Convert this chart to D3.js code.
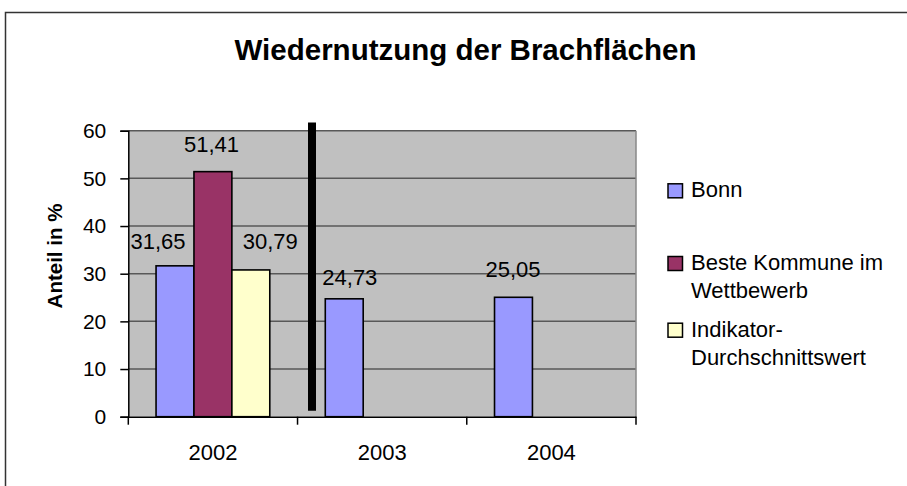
<!DOCTYPE html>
<html>
<head>
<meta charset="utf-8">
<script src="https://cdn.jsdelivr.net/npm/d3@7"></script>
<style>
  html, body { margin: 0; padding: 0; background: #fff; }
  svg { display: block; font-family: Arial, "Liberation Sans", sans-serif; }
</style>
</head>
<body>
<svg id="chart" width="907" height="486"></svg>
<script>
// Data
const years = ["2002", "2003", "2004"];
const seriesNames = ["Bonn", "Beste Kommune im Wettbewerb", "Indikator-Durchschnittswert"];
const bonn = [31.65, 24.73, 25.05];
const besteKommune = [51.41, null, null];
const durchschnitt = [30.79, null, null];
const yTicks = [0, 10, 20, 30, 40, 50, 60];
const legendLines = [["Bonn"], ["Beste Kommune im", "Wettbewerb"], ["Indikator-", "Durchschnittswert"]];
const separatorRange = [1.25, 61.7]; // vertical divider drawn between 2002 and 2003

// Styling
const colors = ["#9999FF", "#993366", "#FFFFCC"];
// label nudges (dx, dy) relative to bar centre / top, per series and year
const labelNudge = [
  [[-17, -17], [5.6, -13.8], [-0.5, -20.6]],
  [[-1.4, -20], null, null],
  [[19.5, -21], null, null]
];

const svg = d3.select("#chart");
const plot = { left: 128.3, right: 636, top: 130.7, bottom: 416.7 };

// outer chart frame
svg.append("rect")
  .attr("x", 5.5).attr("y", 12.5)
  .attr("width", 920).attr("height", 500)
  .attr("fill", "#fff").attr("stroke", "#333").attr("stroke-width", 1.5);

// title
svg.append("text")
  .attr("x", 465.5).attr("y", 60)
  .attr("text-anchor", "middle")
  .attr("font-weight", "bold").attr("font-size", 29.5)
  .text("Wiedernutzung der Brachflächen");

const x0 = d3.scaleBand().domain(years).range([plot.left, plot.right]).paddingInner(0).paddingOuter(0);
const x1 = d3.scaleBand().domain(d3.range(3)).range([0, x0.bandwidth()]).paddingInner(0).paddingOuter(0.732);
const y = d3.scaleLinear().domain([0, 60]).range([plot.bottom, plot.top]);

// plot background
svg.append("rect")
  .attr("x", plot.left).attr("y", plot.top)
  .attr("width", plot.right - plot.left).attr("height", plot.bottom - plot.top)
  .attr("fill", "#C0C0C0");

// gridlines
svg.append("g").selectAll("line")
  .data(yTicks.filter(t => t > 0))
  .join("line")
  .attr("x1", plot.left).attr("x2", plot.right)
  .attr("y1", d => y(d)).attr("y2", d => y(d))
  .attr("stroke", "#585858").attr("stroke-width", 1.5);

// plot border right
svg.append("line")
  .attr("x1", plot.right).attr("x2", plot.right)
  .attr("y1", plot.top).attr("y2", plot.bottom)
  .attr("stroke", "#888").attr("stroke-width", 1.5);

// bars
const allSeries = [bonn, besteKommune, durchschnitt];
const barData = [];
allSeries.forEach((vals, s) => vals.forEach((v, i) => {
  if (v !== null) barData.push({ s, year: years[i], i, v });
}));

svg.append("g").selectAll("rect")
  .data(barData)
  .join("rect")
  .attr("x", d => x0(d.year) + x1(d.s))
  .attr("y", d => y(d.v))
  .attr("width", x1.bandwidth())
  .attr("height", d => y(0) - y(d.v))
  .attr("fill", d => colors[d.s])
  .attr("stroke", "#000").attr("stroke-width", 1.6);

// value labels
svg.append("g").selectAll("text")
  .data(barData)
  .join("text")
  .attr("x", d => x0(d.year) + x1(d.s) + x1.bandwidth() / 2 + labelNudge[d.s][d.i][0])
  .attr("y", d => y(d.v) + labelNudge[d.s][d.i][1])
  .attr("text-anchor", "middle")
  .attr("font-size", 22)
  .text(d => d3.format(".2f")(d.v).replace(".", ","));

// divider
svg.append("line")
  .attr("x1", 312).attr("x2", 312)
  .attr("y1", y(separatorRange[1])).attr("y2", y(separatorRange[0]))
  .attr("stroke", "#000").attr("stroke-width", 8);

// y axis
const yAxis = d3.axisLeft(y).tickValues(yTicks).tickSize(8).tickPadding(14);
const gy = svg.append("g").attr("transform", `translate(${plot.left},0)`).call(yAxis);
gy.select(".domain").attr("stroke", "#000").attr("stroke-width", 1.5);
gy.selectAll(".tick line").attr("stroke", "#000").attr("stroke-width", 1.5);
gy.selectAll(".tick text").attr("font-size", 21).attr("fill", "#000")
  .attr("font-family", "Arial, 'Liberation Sans', sans-serif");

// x axis
const xAxis = d3.axisBottom(x0).tickSize(0).tickPadding(28);
const gx = svg.append("g").attr("transform", `translate(0,${plot.bottom})`).call(xAxis);
gx.select(".domain").attr("stroke", "#000").attr("stroke-width", 1.5);
gx.selectAll(".tick text").attr("font-size", 22).attr("fill", "#000")
  .attr("font-family", "Arial, 'Liberation Sans', sans-serif");
// category boundary ticks
gx.append("g").selectAll("line")
  .data(years.map(d => x0(d)).concat([plot.right]))
  .join("line")
  .attr("x1", d => d).attr("x2", d => d)
  .attr("y1", 0).attr("y2", 8)
  .attr("stroke", "#000").attr("stroke-width", 1.5);

// y axis title
svg.append("text")
  .attr("transform", "translate(62,256) rotate(-90)")
  .attr("text-anchor", "middle")
  .attr("font-weight", "bold").attr("font-size", 20.5)
  .text("Anteil in %");

// legend
const legendY = [197.3, 270, 336.7];
const lg = svg.append("g");
legendLines.forEach((lines, i) => {
  lg.append("rect")
    .attr("x", 668).attr("y", legendY[i] - 13.5)
    .attr("width", 14.5).attr("height", 14)
    .attr("fill", colors[i]).attr("stroke", "#000").attr("stroke-width", 1.5);
  const t = lg.append("text").attr("x", 691).attr("y", legendY[i]).attr("font-size", 22);
  lines.forEach((ln, k) => {
    t.append("tspan").attr("x", 691).attr("dy", k === 0 ? 0 : 27.8).text(ln);
  });
});
</script>
</body>
</html>
